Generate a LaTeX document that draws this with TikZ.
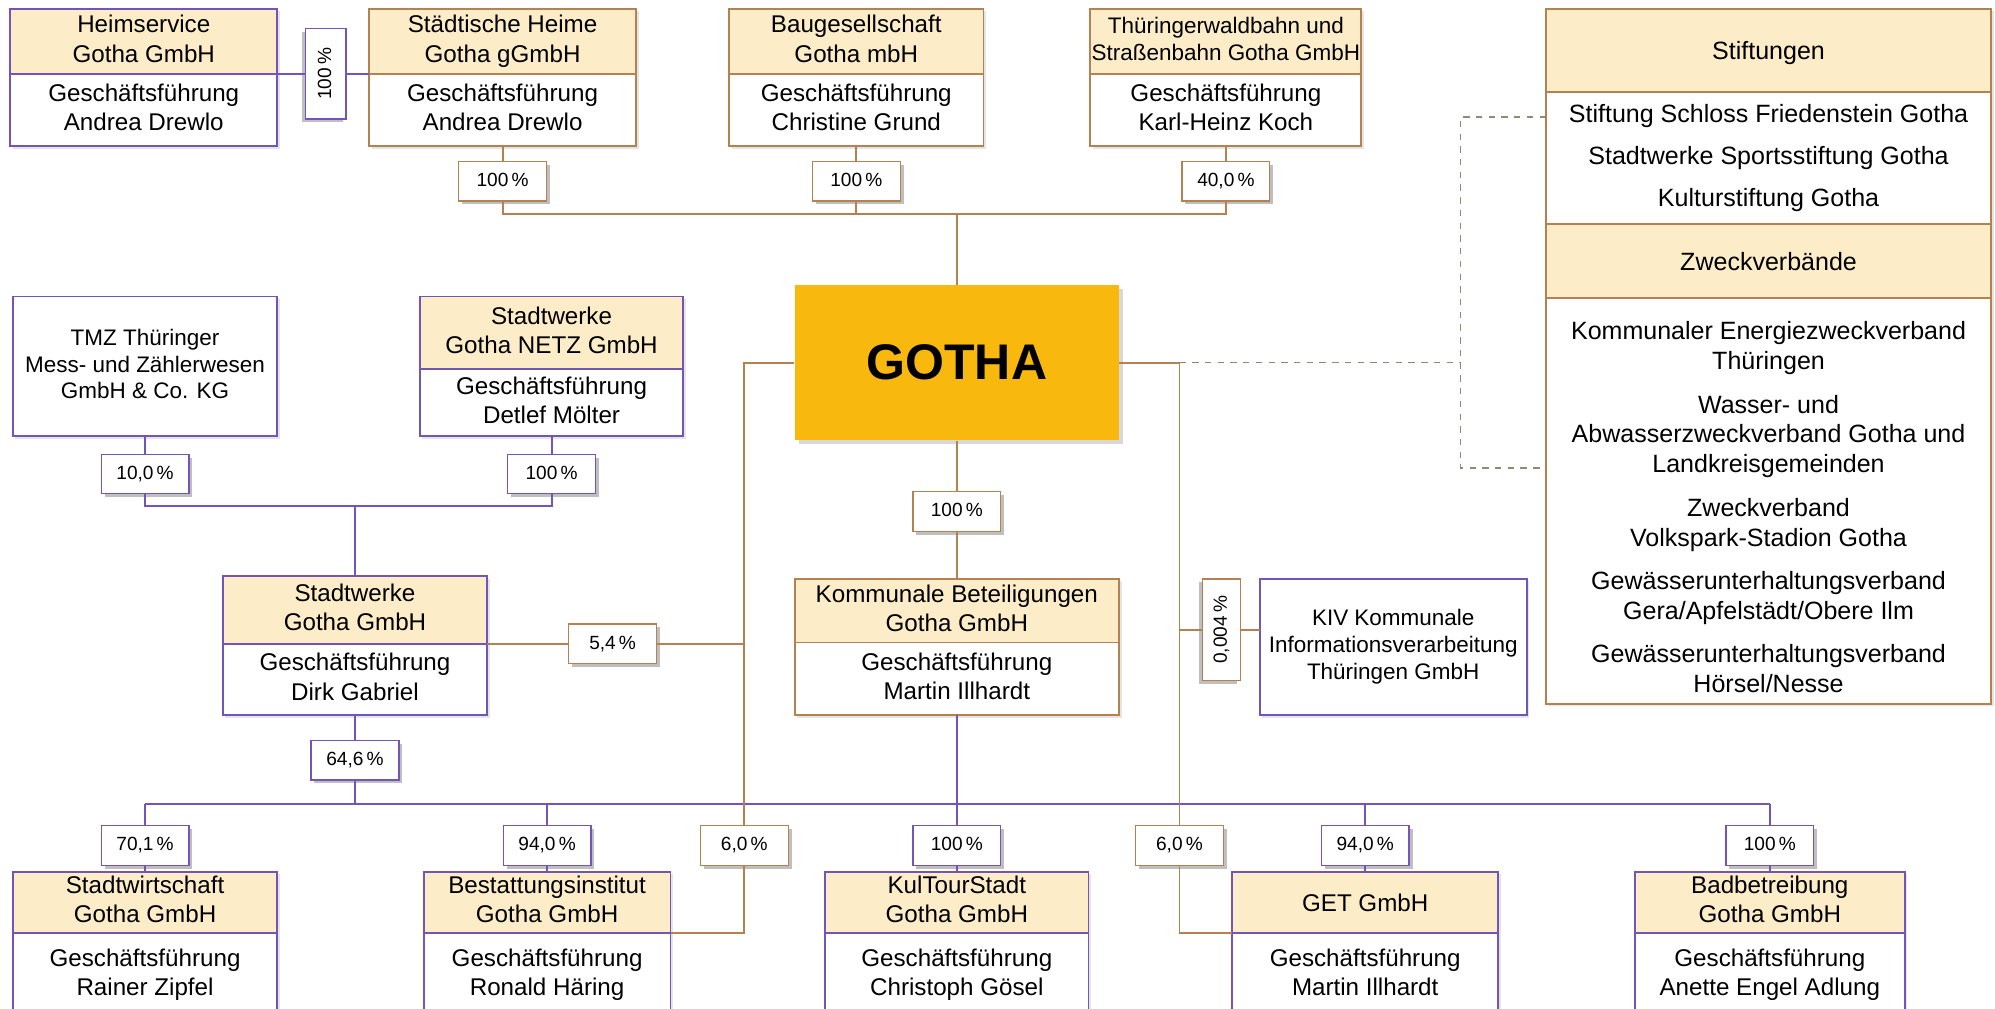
\documentclass[tikz,border=0pt]{standalone}
\usepackage{fontspec}
\setmainfont{Liberation Sans}
\usetikzlibrary{positioning,shadows}

\definecolor{lila}{RGB}{115,85,185}
\definecolor{braun}{RGB}{180,130,80}
\definecolor{headfill}{RGB}{252,236,200}
\definecolor{gothafill}{RGB}{248,184,14}
\definecolor{dashgrey}{RGB}{140,140,115}

\newcommand{\boxfont}{\fontsize{11.4}{13.8}\selectfont}
\newcommand{\narrowfont}{\fontsize{10.6}{12.6}\selectfont}
\newcommand{\panelfont}{\fontsize{11.8}{14.1}\selectfont}
\newcommand{\pctfont}{\fontsize{9}{10}\selectfont}
\newcommand{\gothafont}{\fontsize{23.6}{26}\selectfont\bfseries}
\newcommand{\capstrut}{\rule[-0.22em]{0pt}{1.2em}}

\begin{document}
\begin{tikzpicture}[x=0.6pt, y=-0.6pt,
	box/.style={draw=#1, fill=white, line width=0.9pt, outer sep=0pt, inner sep=0pt, align=center, font=\boxfont,
		execute at begin node=\capstrut, execute at end node=\capstrut,
		drop shadow={shadow xshift=1.2pt, shadow yshift=-1.2pt, fill=black!20}},
	head/.style={box=#1, fill=headfill},
	pct/.style={draw=#1, fill=white, line width=0.6pt, outer sep=0pt, inner sep=0pt, font=\pctfont,
		text height=6.5pt, text depth=1.5pt, minimum width=41.4pt, minimum height=18.6pt,
		drop shadow={shadow xshift=1.6pt, shadow yshift=-1.6pt, fill=black!50}},
	vpct/.style={draw=#1, fill=white, line width=0.6pt, outer sep=0pt, inner sep=0pt, font=\pctfont, rotate=90,
		text height=6.5pt, text depth=1.5pt,
		drop shadow={shadow xshift=-1.6pt, shadow yshift=-1.6pt, fill=black!50}},
	lila line/.style={draw=lila, line width=0.9pt},
	braun line/.style={draw=braun, line width=0.9pt},
	verband/.style={draw=dashgrey, dashed, line width=0.8pt}
]

\def\width{1568}
\def\height{793}
\def\pu{0.6pt}

\path [use as bounding box] (0,0) rectangle (\width,\height);
\clip (0,0) rectangle (\width,\height);

% TOP ROW
\node[head=lila, minimum width=210*\pu, minimum height=51*\pu] (heim) at (113,32.5) {Heimservice\\Gotha GmbH};
\node[box=lila, minimum width=210*\pu, minimum height=57*\pu, below=0pt of heim] (heimGF) {Geschäftsführung\\Andrea Drewlo};
\node[head=braun, minimum width=210*\pu, minimum height=51*\pu] (staedt) at (395,32.5) {Städtische Heime\\Gotha gGmbH};
\node[box=braun, minimum width=210*\pu, minimum height=57*\pu, below=0pt of staedt] (staedtGF) {Geschäftsführung\\Andrea Drewlo};
\node[head=braun, minimum width=200*\pu, minimum height=51*\pu] (baug) at (673,32.5) {Baugesellschaft\\Gotha mbH};
\node[box=braun, minimum width=200*\pu, minimum height=57*\pu, below=0pt of baug] (baugGF) {Geschäftsführung\\Christine Grund};
\node[head=braun, minimum width=213*\pu, minimum height=51*\pu, font=\narrowfont] (bahn) at (963.5,32.5) {Thüringerwaldbahn und\\Straßenbahn Gotha GmbH};
\node[box=braun, minimum width=213*\pu, minimum height=57*\pu, below=0pt of bahn] (bahnGF) {Geschäftsführung\\Karl-Heinz Koch};

\node[vpct=lila, minimum width=71*\pu, minimum height=32*\pu] (heimPct) at (256,58) {100\,\%};
\node[pct=braun, below=7.2pt of staedtGF] (staedtPct) {100\,\%};
\node[pct=braun, below=7.2pt of baugGF] (baugPct) {100\,\%};
\node[pct=braun, below=7.2pt of bahnGF] (bahnPct) {40,0\,\%};
\coordinate (topbus) at (752,168);

% GOTHA
\node[fill=gothafill, minimum width=255*\pu, minimum height=122*\pu, font=\gothafont,
	drop shadow={shadow xshift=2pt, shadow yshift=-2pt, fill=black!30}] (gotha) at (752,285) {GOTHA};

% STIFTUNGEN + ZWECKVERBAENDE
\node[head=braun, minimum width=350*\pu, minimum height=65*\pu, font=\panelfont] (stift) at (1390,39.5) {Stiftungen};
\node[box=braun, minimum width=350*\pu, minimum height=104*\pu, font=\panelfont, below=0pt of stift] (stiftList)
	{Stiftung Schloss Friedenstein Gotha\\[5.7pt]Stadtwerke Sportsstiftung Gotha\\[5.7pt]Kulturstiftung Gotha};
\node[head=braun, minimum width=350*\pu, minimum height=58*\pu, font=\panelfont, below=0pt of stiftList] (zweck) {Zweckverbände};
\node[box=braun, minimum width=350*\pu, minimum height=319*\pu, font=\panelfont, below=0pt of zweck] (zweckList)
	{\rule{0pt}{\dimexpr1.2em+3pt\relax}Kommunaler Energiezweckverband\\Thüringen\\[6.3pt]Wasser- und\\Abwasserzweckverband Gotha und\\Landkreisgemeinden\\[6.3pt]%
	Zweckverband\\Volkspark-Stadion Gotha\\[6.3pt]Gewässerunterhaltungsverband\\Gera/Apfelstädt/Obere Ilm\\[6.3pt]%
	Gewässerunterhaltungsverband\\Hörsel/Nesse};

% LEFT
\node[box=lila, minimum width=208*\pu, minimum height=110*\pu, font=\narrowfont] (tmz) at (114,288) {TMZ Thüringer\\Mess- und Zählerwesen\\GmbH \& Co. KG};
\node[head=lila, minimum width=207*\pu, minimum height=57*\pu] (netz) at (433.5,261.5) {Stadtwerke\\Gotha NETZ GmbH};
\node[box=lila, minimum width=207*\pu, minimum height=53*\pu, below=0pt of netz] (netzGF) {Geschäftsführung\\Detlef Mölter};
\node[pct=lila, below=8.4pt of tmz] (tmzPct) {10,0\,\%};
\node[pct=lila, below=8.4pt of netzGF] (netzPct) {100\,\%};
\coordinate (midbus) at (279,398);

\node[head=lila, minimum width=208*\pu, minimum height=53*\pu] (sw) at (279,479.5) {Stadtwerke\\Gotha GmbH};
\node[box=lila, minimum width=208*\pu, minimum height=56*\pu, below=0pt of sw] (swGF) {Geschäftsführung\\Dirk Gabriel};
\node[pct=lila, below=12pt of swGF] (swPct) {64,6\,\%};
\node[pct=braun, right=38.4pt of sw.south east] (swKbPct) {5,4\,\%};

% CENTRE
\node[pct=braun] (kbPct) at (752,402) {100\,\%};
\node[head=braun, minimum width=255*\pu, minimum height=50*\pu] (kb) at (752,480) {Kommunale Beteiligungen\\Gotha GmbH};
\node[box=braun, minimum width=255*\pu, minimum height=57*\pu, below=0pt of kb] (kbGF) {Geschäftsführung\\Martin Illhardt};
\node[vpct=braun, minimum width=80*\pu, minimum height=30*\pu] (kivPct) at (960,495) {0,004\,\%};
\node[box=lila, minimum width=210*\pu, minimum height=107*\pu, font=\narrowfont] (kiv) at (1095,508.5) {KIV Kommunale\\Informationsverarbeitung\\Thüringen GmbH};

% BOTTOM ROW
\node[head=lila, minimum width=208*\pu, minimum height=48*\pu] (stw) at (114,709) {Stadtwirtschaft\\Gotha GmbH};
\node[box=lila, minimum width=208*\pu, minimum height=67*\pu, below=0pt of stw] (stwGF) {Geschäftsführung\\Rainer Zipfel};
\node[head=lila, minimum width=194*\pu, minimum height=48*\pu] (best) at (430,709) {Bestattungsinstitut\\Gotha GmbH};
\node[box=lila, minimum width=194*\pu, minimum height=67*\pu, below=0pt of best] (bestGF) {Geschäftsführung\\Ronald Häring};
\node[head=lila, minimum width=207*\pu, minimum height=48*\pu] (kul) at (752,709) {KulTourStadt\\Gotha GmbH};
\node[box=lila, minimum width=207*\pu, minimum height=67*\pu, below=0pt of kul] (kulGF) {Geschäftsführung\\Christoph Gösel};
\node[head=lila, minimum width=209*\pu, minimum height=48*\pu] (get) at (1073,709) {GET GmbH};
\node[box=lila, minimum width=209*\pu, minimum height=67*\pu, below=0pt of get] (getGF) {Geschäftsführung\\Martin Illhardt};
\node[head=lila, minimum width=212*\pu, minimum height=48*\pu] (bad) at (1391,709) {Badbetreibung\\Gotha GmbH};
\node[box=lila, minimum width=212*\pu, minimum height=67*\pu, below=0pt of bad] (badGF) {Geschäftsführung\\Anette Engel Adlung};

\node[pct=lila, above=3pt of stw] (stwPct) {70,1\,\%};
\node[pct=lila, above=3pt of best] (bestPct) {94,0\,\%};
\node[pct=lila, above=3pt of kul] (kulPct) {100\,\%};
\node[pct=lila, above=3pt of get] (getPct) {94,0\,\%};
\node[pct=lila, above=3pt of bad] (badPct) {100\,\%};
\node[pct=braun] (bestKbPct) at (585,664.5) {6,0\,\%};
\node[pct=braun] (getKbPct) at (927,664.5) {6,0\,\%};
\coordinate (botbus) at (279,632);

% LINES LILA
\draw[lila line] (heim.south east) -- (heimPct) -- (staedt.south west);
\draw[lila line] (tmz) -- (tmzPct) |- (midbus);
\draw[lila line] (netzGF) -- (netzPct) |- (midbus);
\draw[lila line] (midbus) -- (sw);
\draw[lila line] (swGF) -- (swPct) -- (botbus);
\draw[lila line] (kbGF) -- (kbGF |- botbus);
\draw[lila line] (stwPct |- botbus) -- (badPct |- botbus);
\draw[lila line] (stwPct |- botbus) -- (stwPct) -- (stw);
\draw[lila line] (bestPct |- botbus) -- (bestPct) -- (best);
\draw[lila line] (kulPct |- botbus) -- (kulPct) -- (kul);
\draw[lila line] (getPct |- botbus) -- (getPct) -- (get);
\draw[lila line] (badPct |- botbus) -- (badPct) -- (bad);

% LINES BRAUN
\draw[braun line] (staedtGF) -- (staedtPct) |- (topbus);
\draw[braun line] (baugGF) -- (baugPct) -- (baugPct |- topbus);
\draw[braun line] (bahnGF) -- (bahnPct) |- (topbus);
\draw[braun line] (topbus) -- (gotha);
\draw[braun line] (gotha) -- (kbPct) -- (kb);
\draw[braun line] (gotha.west) -| (bestKbPct);
\draw[braun line] (bestKbPct) |- (bestGF.north east);
\draw[braun line] (sw.south east) -- (swKbPct) -- (swKbPct -| bestKbPct);
\draw[braun line] (gotha.east) -| (getKbPct);
\draw[braun line] (getKbPct) |- (getGF.north west);
\draw[braun line] (kivPct -| getKbPct) -- (kivPct) -- (kivPct -| kiv.west);

% VERBAENDE
\coordinate (rjoin) at (getKbPct |- gotha.east);
\coordinate (dtop) at (1148,92);
\coordinate (dbot) at (1148,368);
\draw[verband] (rjoin) -- (rjoin -| dtop);
\draw[verband] (stiftList.west |- dtop) -- (dtop) -- (dbot) -- (zweckList.west |- dbot);

\end{tikzpicture}
\end{document}
